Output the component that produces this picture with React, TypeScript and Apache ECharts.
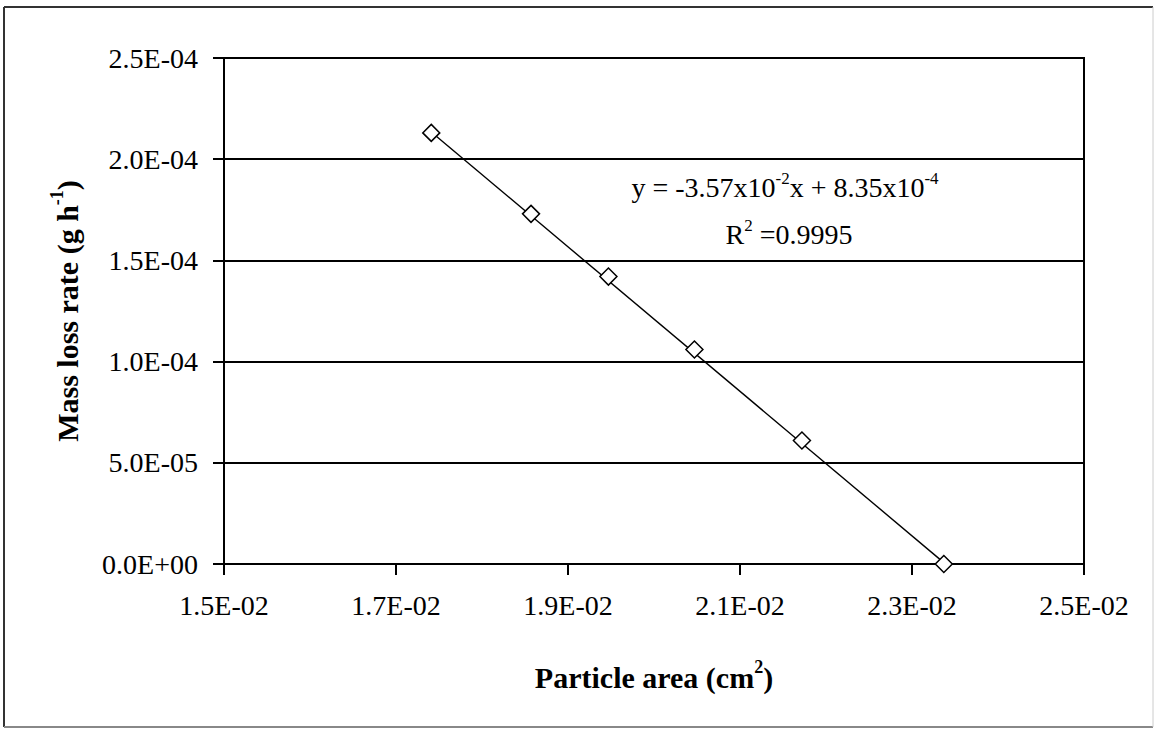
import React, { useEffect, useRef } from 'react';
import * as echarts from 'echarts';

// Data
const PARTICLE_AREA = [0.01741, 0.01857, 0.01947, 0.02047, 0.02172, 0.02337];
const MASS_LOSS_RATE = [2.13e-4, 1.73e-4, 1.42e-4, 1.06e-4, 0.61e-4, 0.0];

// Axis ranges
const X_MIN = 0.015;
const X_MAX = 0.025;
const X_STEP = 0.002;
const Y_MIN = 0;
const Y_MAX = 2.5e-4;
const Y_STEP = 0.5e-4;

// Linear fit shown on the chart
const FIT_SLOPE = -3.57e-2;
const FIT_INTERCEPT = 8.35e-4;
const FIT_LABEL = '{n|y = -3.57x10}{s|-2}{n|x + 8.35x10}{s|-4}';
const R2_LABEL = '{n|R}{s|2}{n| =0.9995}';

const X_TITLE = '{b|Particle area (cm}{bs|2}{b|)}';
const Y_TITLE = '{b|Mass loss rate (g h}{bs|-1}{b|)}';

const FONT = '"Liberation Serif", "Times New Roman", serif';

function sci(v: number): string {
  if (Math.abs(v) < 1e-12) return '0.0E+00';
  const [m, e] = v.toExponential(1).split('e');
  const n = parseInt(e, 10);
  return m + 'E' + (n < 0 ? '-' : '+') + String(Math.abs(n)).padStart(2, '0');
}

const richNormal = {
  n: { fontFamily: FONT, fontSize: 28, lineHeight: 32, color: '#000', verticalAlign: 'bottom' },
  s: { fontFamily: FONT, fontSize: 17, lineHeight: 21, color: '#000', verticalAlign: 'top' },
};
const richBold = {
  b: { fontFamily: FONT, fontSize: 30, fontWeight: 'bold', lineHeight: 34, color: '#000', verticalAlign: 'bottom' },
  bs: { fontFamily: FONT, fontSize: 18, fontWeight: 'bold', lineHeight: 22, color: '#000', verticalAlign: 'top' },
};

export default function App() {
  const ref = useRef<HTMLDivElement>(null);

  useEffect(() => {
    if (!ref.current) return;
    const chart = echarts.init(ref.current, undefined, { renderer: 'svg' });

    const scatterData = PARTICLE_AREA.map((x, i) => [x - X_MIN, MASS_LOSS_RATE[i]]);
    const xLo = Math.min(...PARTICLE_AREA);
    const xHi = Math.max(...PARTICLE_AREA);
    const trendData = [xLo, xHi].map((x) => [x - X_MIN, FIT_SLOPE * x + FIT_INTERCEPT]);

    chart.setOption({
      animation: false,
      backgroundColor: '#fff',
      grid: {
        left: 224,
        right: 71,
        top: 58,
        bottom: 165,
        show: true,
        borderColor: '#000',
        borderWidth: 2,
        backgroundColor: 'transparent',
      },
      xAxis: {
        type: 'value',
        min: 0,
        max: X_MAX - X_MIN,
        interval: X_STEP,
        name: X_TITLE,
        nameLocation: 'middle',
        nameGap: 94,
        nameTextStyle: { rich: richBold },
        axisLine: { show: true, lineStyle: { color: '#000', width: 2 } },
        axisTick: { show: true, length: 11, lineStyle: { color: '#000', width: 2 } },
        axisLabel: {
          margin: 27,
          fontFamily: FONT,
          fontSize: 28,
          color: '#000',
          formatter: (v: number) => sci(v + X_MIN),
        },
        splitLine: { show: false },
      },
      yAxis: {
        type: 'value',
        min: Y_MIN,
        max: Y_MAX,
        interval: Y_STEP,
        name: Y_TITLE,
        nameLocation: 'middle',
        nameRotate: 90,
        nameGap: 142,
        nameTextStyle: { rich: richBold },
        axisLine: { show: true, lineStyle: { color: '#000', width: 2 } },
        axisTick: { show: true, length: 11, lineStyle: { color: '#000', width: 2 } },
        axisLabel: {
          margin: 26,
          fontFamily: FONT,
          fontSize: 28,
          color: '#000',
          formatter: (v: number) => sci(v),
        },
        splitLine: { show: true, lineStyle: { color: '#000', width: 2 } },
      },
      series: [
        {
          type: 'line',
          data: trendData,
          symbol: 'none',
          lineStyle: { color: '#000', width: 1.4 },
          z: 2,
          silent: true,
        },
        {
          type: 'scatter',
          data: scatterData,
          symbol: 'diamond',
          symbolSize: 17,
          itemStyle: { color: '#fff', borderColor: '#000', borderWidth: 1.5, opacity: 1 },
          z: 3,
        },
      ],
      graphic: [
        { type: 'line', shape: { x1: 4, y1: 7, x2: 1153, y2: 7 }, style: { stroke: '#333', lineWidth: 2 } },
        { type: 'line', shape: { x1: 4, y1: 7, x2: 4, y2: 727 }, style: { stroke: '#333', lineWidth: 2 } },
        { type: 'line', shape: { x1: 4, y1: 727, x2: 1153, y2: 727 }, style: { stroke: '#888', lineWidth: 2 } },
        { type: 'line', shape: { x1: 1153, y1: 7, x2: 1153, y2: 727 }, style: { stroke: '#ccc', lineWidth: 1 } },
        {
          type: 'text',
          x: 785,
          y: 185.5,
          style: { text: FIT_LABEL, rich: richNormal, textAlign: 'center', textVerticalAlign: 'middle' },
          z: 10,
        },
        {
          type: 'text',
          x: 789,
          y: 232.5,
          style: { text: R2_LABEL, rich: richNormal, textAlign: 'center', textVerticalAlign: 'middle' },
          z: 10,
        },
      ],
    });

    return () => chart.dispose();
  }, []);

  return (
    <div
      ref={ref}
      style={{ position: 'fixed', left: 0, top: 0, width: 1155, height: 729, background: '#fff' }}
    />
  );
}
